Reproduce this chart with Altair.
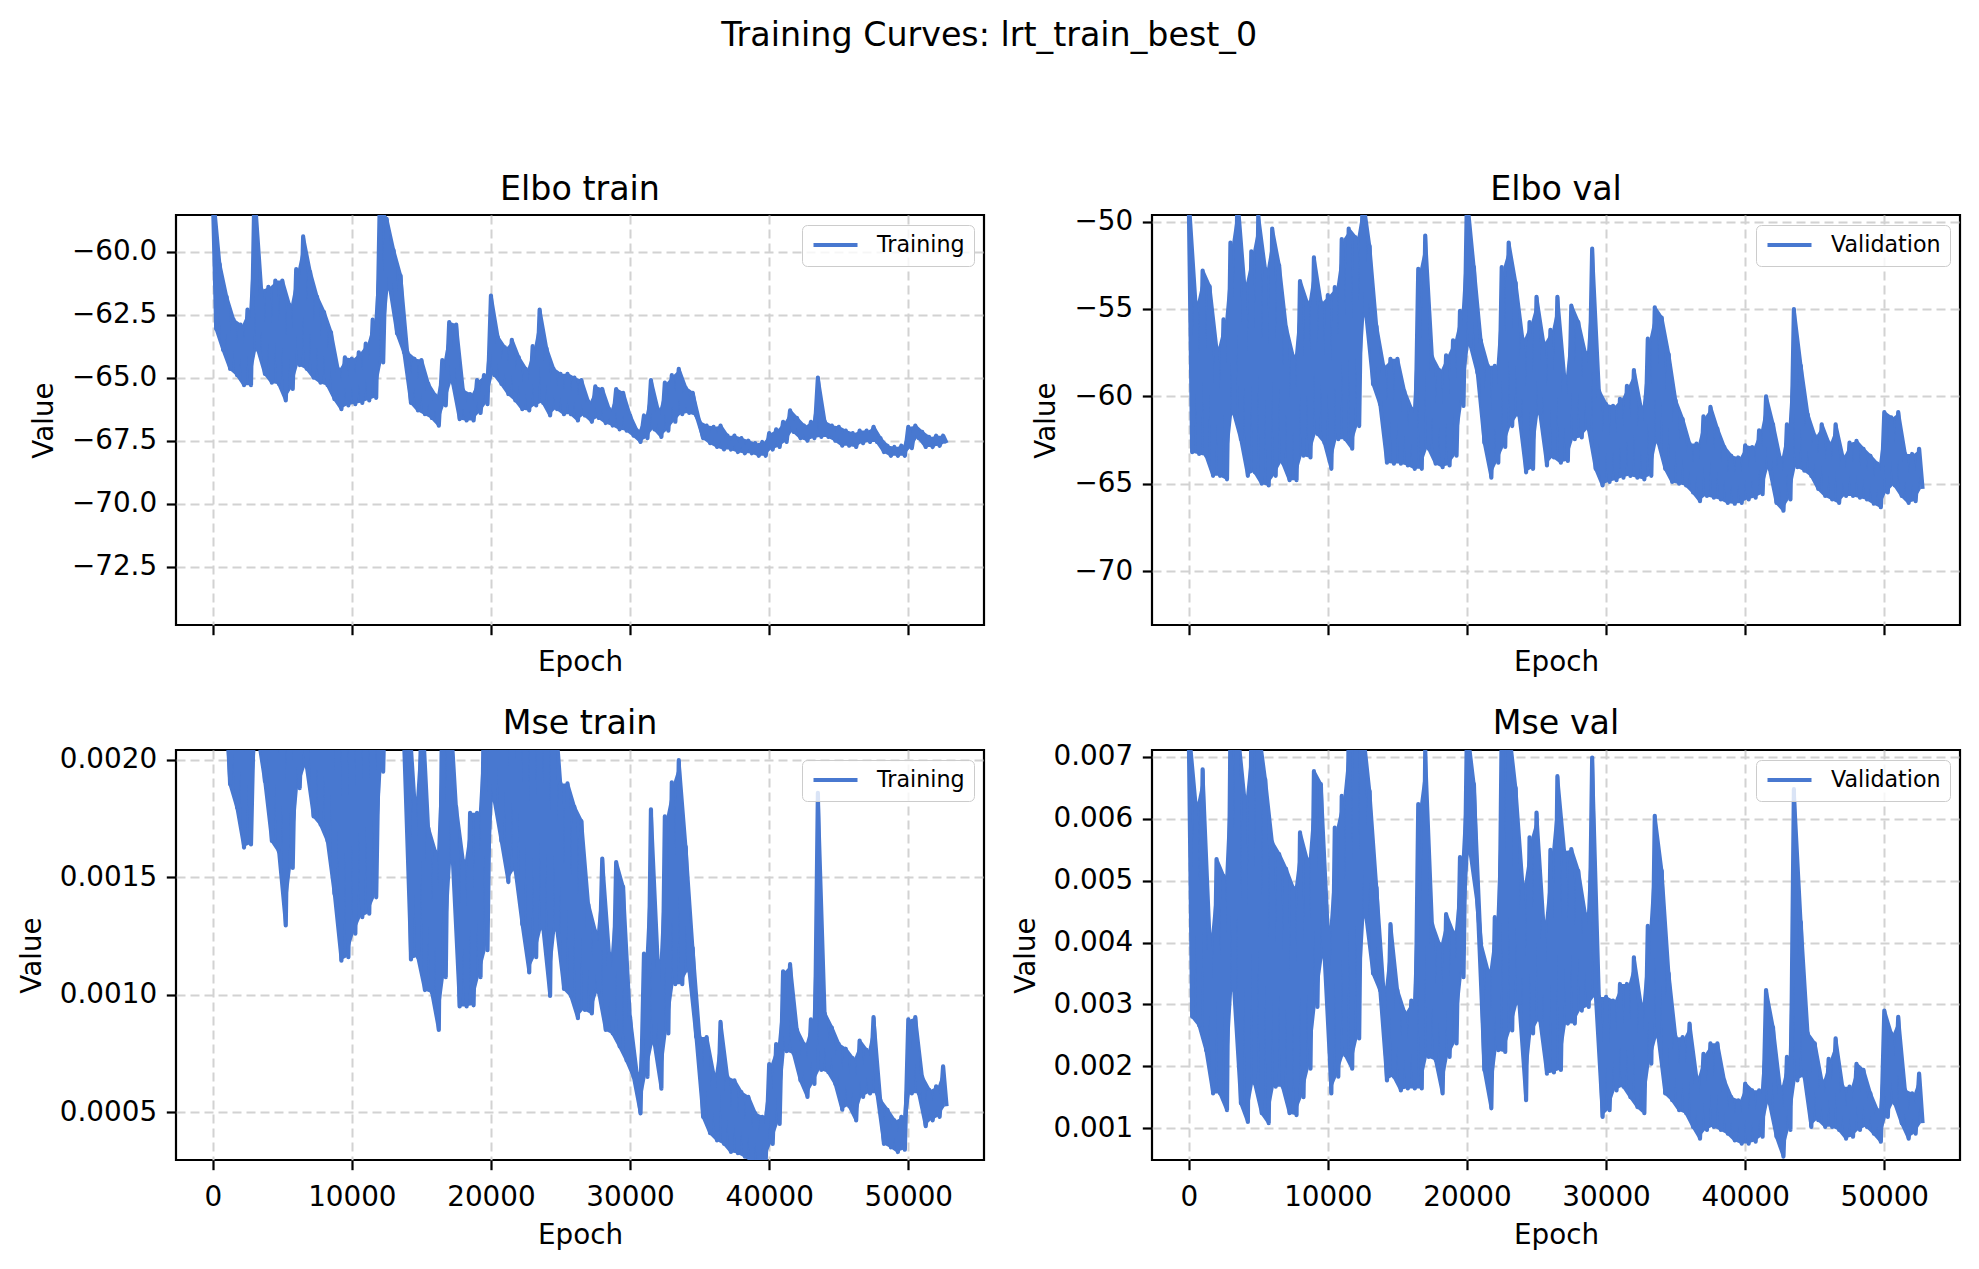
import pandas as pd
import altair as alt

LINE_COLOR = "#4878d0"
FONT = "DejaVu Sans"

# epochs at the start of each 500-epoch window; the curves are read off as the
# highest and the lowest value reached inside every window
EPOCH_BINS = list(range(0, 53000, 500))
X_TICKS = [0, 10000, 20000, 30000, 40000, 50000]

ELBO_TRAIN_HI = [
    -57.5, -60.5, -61.8, -62.7, -62.9, -62.3, -57.5, -61.5, -61.4, -61.15,
    -61.15, -62.1, -60.7, -59.4, -60.8, -61.8, -62.4, -63.2, -64.65, -64.2,
    -64.25, -64.0, -63.65, -62.7, -58.3, -58.7, -59.95, -60.95, -64.0, -64.25,
    -64.3, -65.25, -65.7, -64.3, -62.8, -62.9, -65.5, -65.65, -65.1, -64.9,
    -61.75, -63.4, -63.8, -63.5, -64.2, -64.65, -63.75, -62.3, -63.85, -64.65,
    -64.85, -64.85, -65.0, -65.1, -65.95, -65.35, -65.45, -66.25, -65.45, -65.6,
    -66.5, -67.1, -66.5, -65.1, -66.25, -65.2, -64.9, -64.65, -65.4, -65.6,
    -66.75, -66.9, -66.95, -66.9, -67.3, -67.3, -67.4, -67.5, -67.6, -67.55,
    -67.2, -67.05, -66.75, -66.3, -66.6, -66.9, -66.75, -65.0, -66.75, -66.9,
    -66.95, -67.1, -67.2, -67.1, -67.1, -66.95, -67.4, -67.7, -67.75, -67.7,
    -66.95, -66.9, -67.15, -67.35, -67.3, -67.3,
]
ELBO_TRAIN_LO = [
    -63.07, -63.9, -64.65, -64.9, -65.3, -65.3, -63.9, -64.85, -65.2, -65.25,
    -65.9, -65.45, -64.5, -64.65, -65.0, -65.2, -65.3, -65.85, -66.25, -66.1,
    -66.05, -66.0, -65.9, -65.8, -64.4, -61.5, -63.25, -64.0, -66.0, -66.3,
    -66.45, -66.6, -66.9, -66.1, -65.2, -66.65, -66.7, -66.7, -66.4, -66.05,
    -64.9, -65.25, -65.65, -65.9, -66.25, -66.3, -66.1, -66.0, -66.5, -66.25,
    -66.45, -66.45, -66.7, -66.5, -66.75, -66.6, -66.8, -66.9, -67.05, -67.1,
    -67.3, -67.55, -67.4, -67.05, -67.35, -67.1, -66.75, -66.45, -66.4, -66.5,
    -67.4, -67.6, -67.75, -67.85, -67.85, -67.95, -68.0, -68.0, -68.1, -68.1,
    -67.85, -67.75, -67.55, -67.15, -67.4, -67.5, -67.4, -67.35, -67.35, -67.5,
    -67.7, -67.7, -67.75, -67.6, -67.55, -67.55, -67.95, -68.1, -68.1, -68.1,
    -67.8, -67.4, -67.75, -67.75, -67.7, -67.6,
]

ELBO_VAL_HI = [
    -48.5, -54.6, -52.8, -53.7, -57.2, -55.6, -51.2, -48.5, -53.5, -51.7,
    -49.65, -52.7, -50.4, -52.5, -56.05, -57.7, -53.4, -54.6, -52.05, -54.6,
    -54.2, -53.75, -51.0, -50.4, -50.9, -48.5, -51.4, -56.0, -58.25, -57.85,
    -57.85, -59.7, -60.7, -52.7, -50.8, -57.75, -58.5, -57.65, -56.8, -55.1,
    -48.5, -52.6, -56.8, -58.25, -58.25, -52.6, -51.2, -53.5, -56.7, -55.75,
    -54.3, -56.9, -56.2, -54.3, -58.8, -54.8, -55.75, -57.5, -51.55, -59.7,
    -60.45, -60.55, -60.15, -59.4, -58.5, -60.6, -56.7, -54.9, -55.5, -57.6,
    -60.25, -61.3, -62.7, -62.7, -61.15, -60.6, -61.85, -62.9, -63.4, -63.5,
    -62.8, -62.9, -61.95, -60.0, -61.6, -63.5, -61.6, -55.0, -58.25, -61.05,
    -62.25, -61.6, -62.65, -61.6, -63.4, -62.65, -62.55, -63.0, -63.4, -63.85,
    -60.9, -61.2, -60.9, -63.3, -63.3, -63.0,
]
ELBO_VAL_LO = [
    -63.2, -63.3, -63.4, -64.55, -64.55, -64.75, -61.0, -62.45, -64.55, -64.35,
    -65.0, -65.1, -64.55, -63.8, -64.8, -64.8, -63.4, -63.5, -62.15, -62.65,
    -64.15, -62.45, -62.45, -63.0, -61.7, -55.4, -59.3, -60.45, -63.8, -63.85,
    -63.85, -63.95, -64.15, -64.15, -63.0, -63.85, -64.05, -63.95, -63.4, -60.55,
    -57.1, -58.65, -62.65, -64.65, -63.8, -62.9, -61.7, -61.1, -64.35, -64.15,
    -61.0, -63.95, -63.5, -63.8, -63.7, -62.45, -62.35, -61.9, -64.15, -65.1,
    -64.9, -64.8, -64.65, -64.55, -64.65, -64.75, -64.55, -62.65, -64.15, -64.9,
    -65.0, -65.1, -65.5, -66.0, -65.7, -65.8, -65.9, -66.1, -66.15, -66.1,
    -65.9, -65.8, -65.6, -64.15, -66.1, -66.55, -65.9, -64.05, -64.25, -64.55,
    -65.3, -65.7, -65.9, -66.1, -65.7, -65.7, -65.8, -65.9, -66.15, -66.35,
    -65.5, -65.1, -65.7, -66.1, -66.0, -65.3,
]

# MSE train, in units of 1e-4
MSE_TRAIN_HI = [
    30, 30, 23, 23, 23, 23, 23, 23, 23, 23,
    23, 23, 23, 23, 23, 23, 23, 23, 23, 23,
    23, 23, 23, 23, 23, 26, 26, 24, 23, 18.4,
    23, 17.1, 16.1, 23, 23, 18.0, 15.7, 17.75, 17.75, 23,
    23, 23, 23, 23, 23, 23, 23, 23, 23, 23,
    19.0, 19.0, 18.0, 17.4, 13.85, 12.7, 15.8, 11.75, 15.65, 14.6,
    9.05, 6.65, 11.75, 17.9, 11.45, 17.6, 19.05, 20.0, 16.3, 12.0,
    8.2, 8.2, 6.65, 8.85, 6.5, 6.35, 5.85, 5.65, 4.95, 4.8,
    7.05, 7.9, 11.0, 11.3, 8.5, 7.9, 8.95, 18.6, 9.2, 8.6,
    7.9, 7.7, 7.3, 8.05, 7.65, 9.05, 5.5, 5.1, 4.65, 4.8,
    8.95, 9.05, 6.5, 5.95, 6.1, 6.95,
]
MSE_TRAIN_LO = [
    25, 24, 18.97, 17.97, 16.27, 16.4, 21, 19.1, 16.55, 16.1,
    12.95, 15.4, 18.8, 19.7, 17.6, 17.25, 16.55, 14.3, 11.45, 11.6,
    12.6, 13.3, 13.45, 14.15, 19.5, 21.5, 21.5, 20.5, 11.5, 11.6,
    10.2, 10.1, 8.5, 10.75, 15.6, 9.5, 9.5, 9.55, 10.75, 11.9,
    18.25, 16.55, 14.8, 15.3, 13.0, 10.95, 11.6, 12.8, 9.95, 12.75,
    10.25, 9.95, 9.0, 9.35, 9.2, 10.1, 8.5, 8.35, 7.8, 7.2,
    6.5, 4.95, 6.5, 7.9, 6.0, 8.35, 10.45, 10.45, 11.0, 8.2,
    4.8, 4.1, 3.8, 3.65, 3.3, 3.25, 3.1, 2.9, 2.9, 2.95,
    3.65, 4.5, 7.6, 7.5, 6.35, 5.65, 6.2, 6.8, 6.7, 6.2,
    5.1, 5.25, 4.65, 5.65, 5.8, 5.8, 3.65, 3.5, 3.3, 3.4,
    5.8, 5.8, 4.4, 4.65, 4.8, 5.25,
]

# MSE val, in units of 1e-3
MSE_VAL_HI = [
    7.5, 6.26, 6.8, 4.14, 5.35, 5.08, 7.5, 7.5, 6.37, 7.5,
    7.5, 6.64, 5.62, 5.43, 5.19, 4.89, 5.78, 5.35, 6.77, 6.56,
    4.25, 5.86, 6.37, 7.5, 7.5, 7.5, 6.45, 4.89, 3.28, 4.3,
    3.23, 2.88, 3.06, 6.24, 7.1, 4.3, 3.98, 4.46, 4.17, 5.38,
    7.5, 6.56, 3.98, 3.55, 4.41, 7.5, 7.5, 6.5, 4.95, 5.7,
    6.1, 4.35, 5.5, 6.69, 5.48, 5.51, 5.16, 4.46, 6.99, 3.12,
    3.12, 3.06, 3.33, 3.33, 3.76, 3.01, 4.27, 6.05, 5.16, 3.5,
    2.47, 2.47, 2.69, 1.83, 2.2, 2.37, 2.37, 1.77, 1.5, 1.45,
    1.72, 1.61, 1.61, 3.23, 2.63, 1.67, 2.15, 6.48, 4.33, 2.53,
    2.37, 1.77, 2.12, 2.45, 1.67, 1.67, 2.04, 1.94, 1.56, 1.29,
    2.9, 2.53, 2.8, 1.61, 1.56, 1.88,
]
MSE_VAL_LO = [
    2.8, 2.66, 2.26, 1.56, 1.56, 1.29, 3.23, 1.4, 1.1, 1.72,
    1.24, 1.08, 1.67, 1.67, 1.24, 1.21, 1.5, 1.96, 2.96, 3.76,
    1.56, 1.83, 2.18, 1.96, 2.45, 4.41, 3.5, 3.23, 1.77, 1.83,
    1.61, 1.64, 1.64, 1.64, 2.15, 2.1, 1.56, 2.15, 2.37, 3.44,
    5.43, 4.62, 1.94, 1.32, 2.26, 2.23, 2.58, 3.01, 1.45, 2.53,
    2.74, 1.88, 1.9, 1.94, 2.69, 2.69, 2.9, 2.96, 3.12, 1.18,
    1.29, 1.61, 1.67, 1.5, 1.34, 1.24, 2.04, 2.47, 1.56, 1.45,
    1.29, 1.24, 1.02, 0.83, 0.97, 1.02, 0.97, 0.91, 0.8, 0.75,
    0.75, 0.78, 0.86, 1.4, 0.86, 0.54, 0.97, 1.77, 1.83, 1.02,
    1.13, 1.02, 1.02, 0.97, 0.83, 0.86, 0.97, 1.02, 0.91, 0.78,
    1.18, 1.4, 1.08, 0.83, 0.91, 1.08,
]

X_DOMAIN = [-2640, 55440]
PANEL_W = 808
PANEL_H = 410


def zigzag(hi, lo, unit=1.0):
    # the line visits the window's high, then its low
    rows = []
    for start, h, l in zip(EPOCH_BINS, hi, lo):
        rows.append({"epoch": start, "value": h * unit})
        rows.append({"epoch": start + 250, "value": l * unit})
    return pd.DataFrame(rows)


def band(hi, lo, unit=1.0):
    # the densely oscillating stretch between low and high of each window
    return pd.DataFrame({
        "epoch": [b + 125 for b in EPOCH_BINS],
        "lo": [v * unit for v in lo],
        "hi": [v * unit for v in hi],
    })


def panel(hi, lo, unit, label, title, title_offset, y_domain, y_ticks, y_fmt,
          x_labels):
    x_scale = alt.Scale(domain=X_DOMAIN, nice=False, zero=False)
    y_scale = alt.Scale(domain=y_domain, nice=False, zero=False)
    x_axis = alt.Axis(values=X_TICKS, labels=x_labels, format="d",
                      title="Epoch", titlePadding=10 if x_labels else 13)
    y_axis = alt.Axis(values=y_ticks, format=y_fmt, title="Value")

    fill = (
        alt.Chart(band(hi, lo, unit))
        .mark_area(clip=True, color=LINE_COLOR)
        .encode(
            x=alt.X("epoch:Q", scale=x_scale, axis=x_axis),
            y=alt.Y("lo:Q", scale=y_scale, axis=y_axis),
            y2="hi:Q",
        )
    )

    line = (
        alt.Chart(zigzag(hi, lo, unit).assign(series=label))
        .mark_line(clip=True, strokeWidth=4.2, strokeJoin="round")
        .encode(
            x=alt.X("epoch:Q", scale=x_scale),
            y=alt.Y("value:Q", scale=y_scale),
            color=alt.Color(
                "series:N",
                scale=alt.Scale(domain=[label], range=[LINE_COLOR]),
                legend=alt.Legend(
                    title=None, orient="top-right", offset=10, padding=9,
                    strokeColor="#cccccc", cornerRadius=5,
                    fillColor="rgba(255,255,255,0.8)",
                    symbolType="stroke", symbolSize=1936, clipHeight=22,
                    symbolStrokeWidth=4.2, labelFontSize=22.2,
                    labelFont=FONT, labelColor="black", labelOffset=17,
                ),
            ),
        )
    )

    return (
        alt.layer(fill, line)
        .properties(
            width=PANEL_W, height=PANEL_H,
            title=alt.Title(title, fontSize=33.3, fontWeight="normal",
                            font=FONT, color="black", offset=title_offset),
        )
    )


elbo_train = panel(ELBO_TRAIN_HI, ELBO_TRAIN_LO, 1.0, "Training", "Elbo train", 8,
                   [-74.81, -58.55], [-72.5, -70.0, -67.5, -65.0, -62.5, -60.0],
                   ".1f", False)
elbo_val = panel(ELBO_VAL_HI, ELBO_VAL_LO, 1.0, "Validation", "Elbo val", 0.5,
                 [-73.09, -49.62], [-70, -65, -60, -55, -50], "d", False)
mse_train = panel(MSE_TRAIN_HI, MSE_TRAIN_LO, 1e-4, "Training", "Mse train", 5,
                  [0.000296, 0.0020425], [0.0005, 0.0010, 0.0015, 0.0020],
                  ".4f", True)
mse_val = panel(MSE_VAL_HI, MSE_VAL_LO, 1e-3, "Validation", "Mse val", 1.5,
                [0.000484, 0.007113],
                [0.001, 0.002, 0.003, 0.004, 0.005, 0.006, 0.007], ".3f", True)

chart = (
    alt.concat(elbo_train, elbo_val, mse_train, mse_val, columns=2,
               spacing={"row": 125, "column": 168}, bounds="flush")
    .resolve_scale(x="independent", y="independent", color="independent")
    .resolve_legend(color="independent")
    .properties(
        title=alt.Title("Training Curves: lrt_train_best_0", fontSize=33.3,
                        fontWeight="normal", font=FONT, color="black",
                        anchor="middle", offset=118),
        padding={"left": 9, "top": 11, "right": 5, "bottom": 5},
        background="white",
    )
    .configure_view(stroke="black", strokeWidth=2.2)
    .configure_axis(
        labelFont=FONT, labelFontSize=27.8, labelColor="black",
        titleFont=FONT, titleFontSize=27.8, titleFontWeight="normal",
        titleColor="black", titlePadding=13,
        tickSize=9.7, tickWidth=2.2, tickColor="black",
        domain=False, gridColor="#d2d2d2", gridDash=[9, 5], gridWidth=2,
    )
    .configure_axisX(labelPadding=13.5)
    .configure_axisY(labelPadding=9.7)
)

chart.save("out.html", embed_options={"renderer": "svg", "actions": False})
